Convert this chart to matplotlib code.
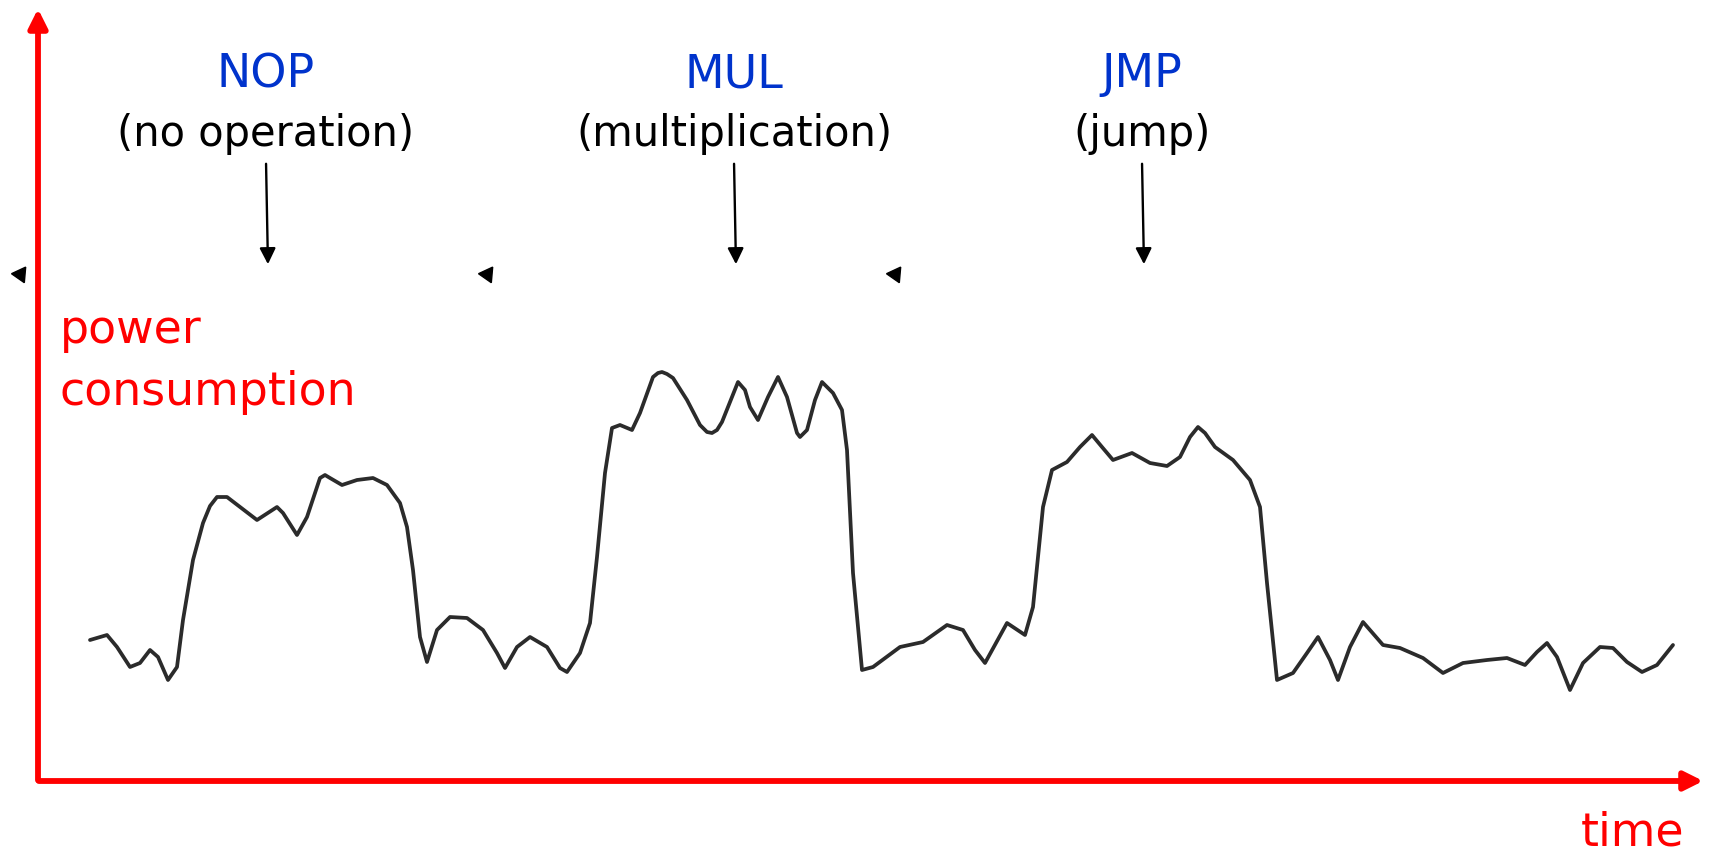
import matplotlib.pyplot as plt

# trace of the power curve (time, power) in picture pixels
time = [90, 107, 117, 130, 140, 150, 158, 168, 177, 183, 193, 203, 210, 217, 227,
        240, 257, 277, 283, 297, 307, 320, 325, 330, 342, 357, 373, 387, 400, 407,
        413, 420, 427, 437, 450, 467, 483, 497, 505, 517, 530, 547, 560, 567, 580,
        590, 597, 605, 612, 620, 632, 640, 653, 658, 662, 667, 673, 687, 700, 707,
        712, 717, 722, 738, 745, 750, 758, 768, 778, 787, 797, 800, 807, 815, 822,
        833, 842, 847, 853, 862, 873, 900, 923, 947, 963, 975, 985, 1007, 1025, 1033,
        1043, 1052, 1067, 1080, 1092, 1102, 1113, 1132, 1150, 1167, 1180, 1190, 1198, 1205, 1215,
        1233, 1250, 1260, 1267, 1277, 1293, 1307, 1318, 1330, 1338, 1350, 1363, 1383, 1400, 1423,
        1443, 1463, 1487, 1507, 1525, 1537, 1547, 1557, 1570, 1583, 1600, 1613, 1627, 1642, 1657,
        1673]
power = [640, 635, 647, 667, 663, 650, 657, 680, 667, 620, 560, 523, 506, 497, 497,
         507, 520, 507, 513, 535, 517, 478, 475, 478, 485, 480, 478, 485, 503, 527,
         570, 637, 662, 630, 617, 618, 630, 653, 668, 647, 637, 647, 668, 672, 653,
         623, 557, 473, 428, 425, 430, 413, 377, 373, 372, 374, 378, 400, 425, 432,
         433, 430, 422, 382, 390, 407, 420, 397, 377, 397, 433, 437, 430, 400, 382,
         393, 410, 450, 573, 670, 667, 647, 642, 625, 630, 650, 663, 623, 635, 607,
         507, 470, 462, 447, 435, 447, 460, 453, 463, 466, 457, 437, 427, 433, 447,
         460, 480, 507, 583, 680, 673, 653, 637, 660, 680, 647, 622, 645, 648, 658,
         673, 663, 660, 658, 665, 652, 643, 657, 690, 663, 647, 648, 662, 672, 665,
         645]

ops = ["NOP", "MUL", "JMP"]
op_names = ["(no operation)", "(multiplication)", "(jump)"]
op_x = [266, 734, 1142]
marks_x = [20, 487, 895]

fig = plt.figure(figsize=(17.12, 8.59), dpi=100)
ax = fig.add_axes([0, 0, 1, 1])
ax.set_xlim(0, 1712)
ax.set_ylim(859, 0)
ax.axis("off")

ax.plot(time, power, color="#2b2b2b", lw=2.7, solid_joinstyle="round",
        solid_capstyle="round")

# red axes with arrowheads
red = "#ff0000"
ax.annotate("", xy=(38, 6), xytext=(38, 783),
            arrowprops=dict(arrowstyle="-|>", color=red, lw=4.2, mutation_scale=28))
ax.annotate("", xy=(1706, 781), xytext=(36, 781),
            arrowprops=dict(arrowstyle="-|>", color=red, lw=4.2, mutation_scale=28))

ax.text(60, 343, "power", color=red, fontsize=33, va="baseline")
ax.text(60, 405, "consumption", color=red, fontsize=33, va="baseline")
ax.text(1633, 846, "time", color=red, fontsize=33, ha="center", va="baseline")

for name, desc, x in zip(ops, op_names, op_x):
    ax.text(x, 87, name, color="#0033cc", fontsize=33, ha="center", va="baseline")
    ax.text(x, 146, desc, color="black", fontsize=30, ha="center", va="baseline")
    ax.annotate("", xy=(x + 2, 267), xytext=(x, 161),
                arrowprops=dict(arrowstyle="-|>", color="black", lw=1.7, mutation_scale=24))

ax.plot(marks_x, [274] * 3, ls="none", marker=(3, 0, 85), color="black", ms=13)

fig.savefig("out.png", dpi=100)
